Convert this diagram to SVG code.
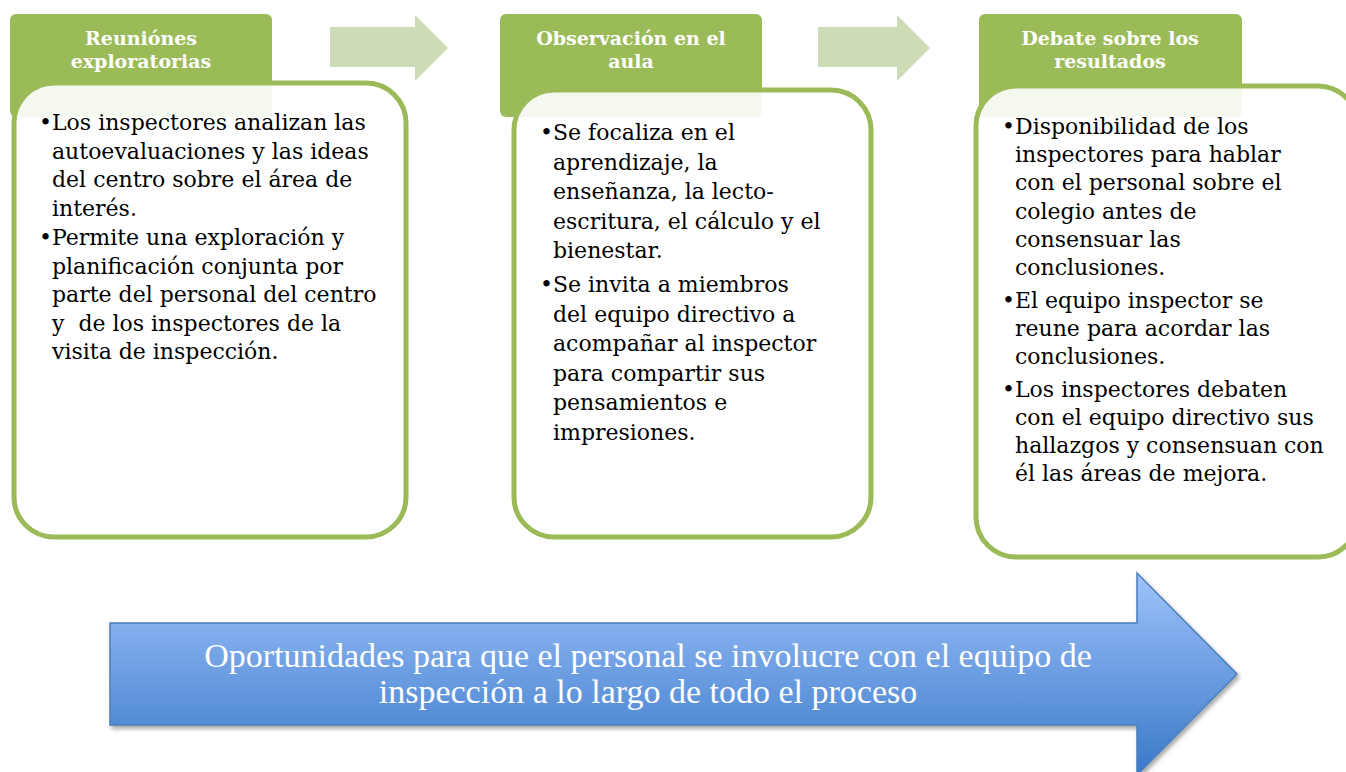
<svg xmlns="http://www.w3.org/2000/svg" width="1346" height="772" viewBox="0 0 1346 772">
<style>
.hdr{fill:#9BBB59}
.box{fill:#FFFFFF;fill-opacity:0.9;stroke:#9BBB59;stroke-width:5}
.ht{font-family:"DejaVu Serif",serif;font-weight:bold;font-size:19px;fill:#FFFFFF;text-anchor:middle}
.bt{font-family:"DejaVu Serif",serif;font-size:22px;fill:#000000}
.sarrow{fill:#CDDBB6}
.big{font-family:"Liberation Serif",serif;font-size:34px;fill:#FFFFFF;text-anchor:middle}
</style>
<defs>
<linearGradient id="blueGrad" gradientUnits="userSpaceOnUse" x1="0" y1="573" x2="0" y2="775">
<stop offset="0" stop-color="#9EC3FB"/>
<stop offset="1" stop-color="#3A78C8"/>
</linearGradient>
<filter id="shadow" x="-5%" y="-10%" width="110%" height="130%">
<feDropShadow dx="2" dy="3" stdDeviation="2" flood-color="#000000" flood-opacity="0.35"/>
</filter>
</defs>

<g id="connectors">
<polygon id="arrow1" class="sarrow" points="330,27 415,27 415,15 448,48 415,81 415,67 330,67"/>
<polygon id="arrow2" class="sarrow" points="818,27 897,27 897,15 930,48 897,81 897,67 818,67"/>
</g>

<g id="node1">
<rect class="hdr" x="10" y="14" width="262" height="103" rx="6"/>
<text class="ht" x="141" y="45">Reuniónes</text>
<text class="ht" x="141" y="68">exploratorias</text>
<rect class="box" x="14" y="83" width="392" height="454" rx="40"/>
<g class="bt">
<text x="39" y="130">•</text>
<text x="52" y="130">Los inspectores analizan las</text>
<text x="52" y="158.5">autoevaluaciones y las ideas</text>
<text x="52" y="187">del centro sobre el área de</text>
<text x="52" y="215.5">interés.</text>
<text x="39" y="245">•</text>
<text x="52" y="245">Permite una exploración y</text>
<text x="52" y="273.5">planificación conjunta por</text>
<text x="52" y="302">parte del personal del centro</text>
<text x="52" y="330.5" xml:space="preserve">y  de los inspectores de la</text>
<text x="52" y="359">visita de inspección.</text>
</g>
</g>

<g id="node2">
<rect class="hdr" x="500" y="14" width="262" height="103" rx="6"/>
<text class="ht" x="631" y="45">Observación en el</text>
<text class="ht" x="631" y="68">aula</text>
<rect class="box" x="514" y="90" width="357" height="447" rx="40"/>
<g class="bt">
<text x="540" y="140">•</text>
<text x="553" y="140">Se focaliza en el</text>
<text x="553" y="169.5">aprendizaje, la</text>
<text x="553" y="199">enseñanza, la lecto-</text>
<text x="553" y="228.5">escritura, el cálculo y el</text>
<text x="553" y="258">bienestar.</text>
<text x="540" y="292">•</text>
<text x="553" y="292">Se invita a miembros</text>
<text x="553" y="321.5">del equipo directivo a</text>
<text x="553" y="351">acompañar al inspector</text>
<text x="553" y="380.5">para compartir sus</text>
<text x="553" y="410">pensamientos e</text>
<text x="553" y="439.5">impresiones.</text>
</g>
</g>

<g id="node3">
<rect class="hdr" x="979" y="14" width="263" height="103" rx="6"/>
<text class="ht" x="1110" y="45">Debate sobre los</text>
<text class="ht" x="1110" y="68">resultados</text>
<rect class="box" x="976" y="86" width="382" height="471" rx="40"/>
<g class="bt">
<text x="1002" y="134">•</text>
<text x="1015" y="134">Disponibilidad de los</text>
<text x="1015" y="162">inspectores para hablar</text>
<text x="1015" y="190">con el personal sobre el</text>
<text x="1015" y="218.5">colegio antes de</text>
<text x="1015" y="246.5">consensuar las</text>
<text x="1015" y="275">conclusiones.</text>
<text x="1002" y="308">•</text>
<text x="1015" y="308">El equipo inspector se</text>
<text x="1015" y="336">reune para acordar las</text>
<text x="1015" y="363.5">conclusiones.</text>
<text x="1002" y="397">•</text>
<text x="1015" y="397">Los inspectores debaten</text>
<text x="1015" y="425">con el equipo directivo sus</text>
<text x="1015" y="453">hallazgos y consensuan con</text>
<text x="1015" y="481">él las áreas de mejora.</text>
</g>
</g>

<g id="bigArrow">
<polygon points="110,623 1137,623 1137,573 1237,674 1137,775 1137,725 110,725" fill="url(#blueGrad)" stroke="#4A7EBB" stroke-width="1.5" filter="url(#shadow)"/>
<text class="big" x="648" y="667">Oportunidades para que el personal se involucre con el equipo de</text>
<text class="big" x="648" y="703">inspección a lo largo de todo el proceso</text>
</g>
</svg>
